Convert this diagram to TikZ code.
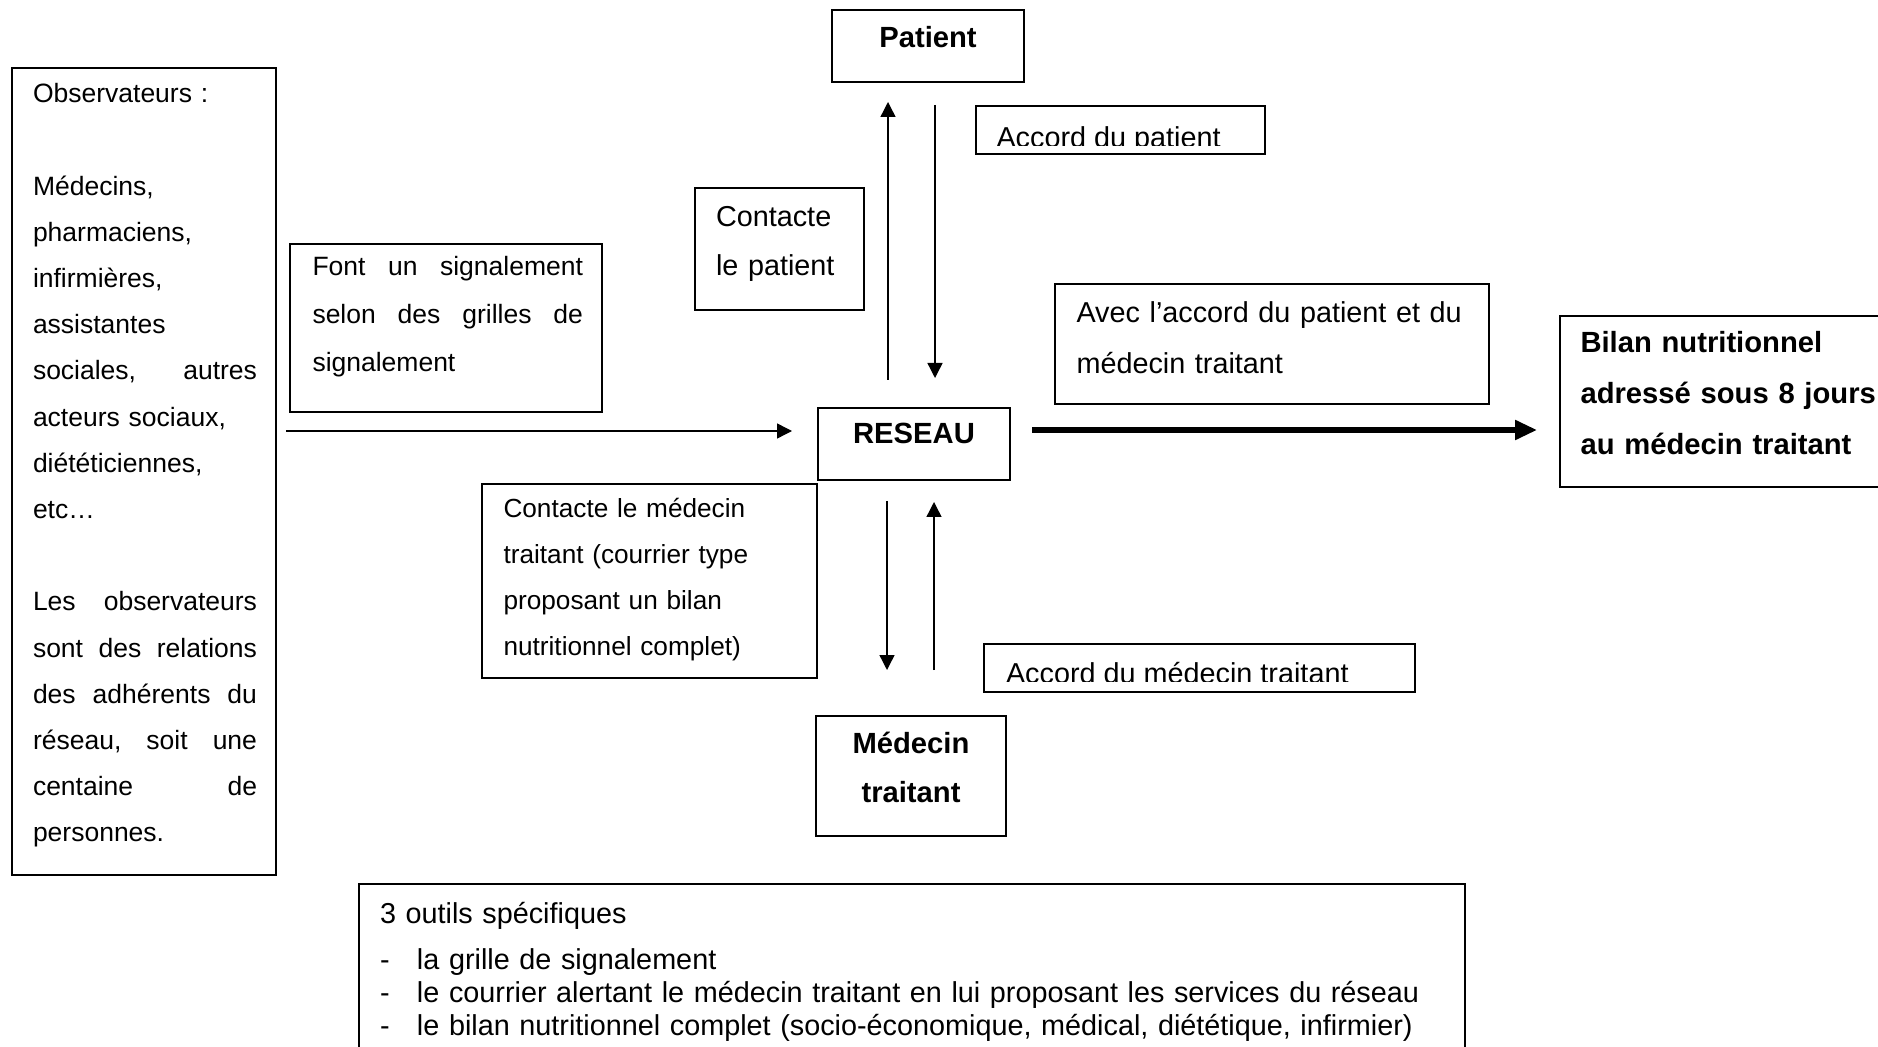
\documentclass[tikz,border=0pt]{standalone}
\usepackage{fontspec}
\setmainfont{Liberation Sans}
\usetikzlibrary{arrows.meta,fit}
\begin{document}
\begin{tikzpicture}[x=0.5pt,y=-0.5pt,
  box/.style={draw, line width=0.7pt, inner sep=0pt},
  txt/.style={inner sep=0pt, outer sep=0pt, anchor=base west, align=left},
  smallf/.style={font=\fontsize{13.1pt}{#1}\selectfont},
  obsf/.style={font=\fontsize{13.25pt}{#1}\selectfont},
  bigf/.style={font=\fontsize{14.4pt}{#1}\selectfont},
  boldf/.style={font=\fontsize{14.6pt}{#1}\selectfont\bfseries},
  arr/.style={line width=0.7pt, -{Triangle[length=7.5pt,width=7.5pt]}},
  thickarr/.style={line width=2.6pt, -{Triangle[length=11pt,width=9.5pt]}},
]
\useasboundingbox (0,0) rectangle (1878,1047);
\fill[white] (0,0) rectangle (1878,1047);

% boxes
\node[box, fit={(12,68) (276,875)}] (obs) {};
\node[box, fit={(832,10) (1024,82)}] (patient) {};
\node[box, fit={(976,106) (1265,154)}] (apat) {};
\node[box, fit={(695,188) (864,310)}] (cpat) {};
\node[box, fit={(290,244) (602,412)}] (font) {};
\node[box, fit={(1055,284) (1489,404)}] (avec) {};
\node[box, fit={(1560,316) (1900,487)}] (bilan) {};
\node[box, fit={(818,408) (1010,480)}] (reseau) {};
\node[box, fit={(482,484) (817,678)}] (cmed) {};
\node[box, fit={(984,644) (1415,692)}] (amed) {};
\node[box, fit={(816,716) (1006,836)}] (med) {};
\node[box, fit={(359,884) (1465,1080)}] (outils) {};

% texts
\node[txt, obsf=23.1pt, text width=112pt] (obst) at (33,102.7) {%
Observateurs :\\[23.1pt]
Médecins,\\
pharmaciens,\\
infirmières,\\
assistantes\\
sociales,\hfill autres\\
acteurs sociaux,\\
diététiciennes,\\
etc…\\[23.1pt]
Les\hfill observateurs\\
sont\hfill des\hfill relations\\
des\hfill adhérents\hfill du\\
réseau,\hfill soit\hfill une\\
centaine\hfill de\\
personnes.};

\node[txt, obsf=24pt, text width=135.25pt] (fontt) at (312.5,276) {%
Font\hfill un\hfill signalement\\
selon\hfill des\hfill grilles\hfill de\\
signalement};

\node[txt, bigf=24.5pt, text width=70pt] (cpatt) at (716,226.5) {Contacte\\le patient};

\begin{scope}
  \clip (976,106) rectangle (1265,145.5);
  \node[txt, bigf=17pt] (apatt) at (996.5,147.5) {Accord du patient};
\end{scope}

\node[txt, bigf=25.5pt, text width=205pt] (avect) at (1076.5,322.5) {Avec l’accord du patient et du\\médecin traitant};

\node[txt, boldf=25.4pt, text width=150pt] (bilant) at (1580.5,353) {Bilan nutritionnel\\adressé sous 8 jours\\au médecin traitant};

\node[inner sep=0pt, anchor=base, boldf=17pt] (patientt) at (928,47.5) {Patient};
\node[inner sep=0pt, anchor=base, boldf=17pt] (reseaut) at (914,444) {RESEAU};
\node[inner sep=0pt, anchor=base, align=center, text width=90pt, boldf=24.5pt] (medt) at (911,753) {Médecin\\traitant};

\node[txt, smallf=23pt, text width=150pt] (cmedt) at (503.5,517) {Contacte le médecin\\traitant (courrier type\\proposant un bilan\\nutritionnel complet)};

\begin{scope}
  \clip (984,644) rectangle (1415,681.5);
  \node[txt, bigf=17pt] (amedt) at (1006,683) {Accord du médecin traitant};
\end{scope}

\node[txt, bigf=16.6pt, text width=540pt] (outilst) at (380,923) {%
3 outils spécifiques\\[6.5pt]
\makebox[18.5pt][l]{-}la grille de signalement\\
\makebox[18.5pt][l]{-}le courrier alertant le médecin traitant en lui proposant les services du réseau\\
\makebox[18.5pt][l]{-}le bilan nutritionnel complet (socio-économique, médical, diététique, infirmier)};

% connector end points
\coordinate (a1s) at (888,380);  \coordinate (a1e) at (888,102);
\coordinate (a2s) at (935,105);  \coordinate (a2e) at (935,378);
\coordinate (a3s) at (286,431);  \coordinate (a3e) at (792,431);
\coordinate (a4s) at (1032,430); \coordinate (a4e) at (1537,430);
\coordinate (a5s) at (887,501);  \coordinate (a5e) at (887,670);
\coordinate (a6s) at (934,670);  \coordinate (a6e) at (934,502);

\draw[arr] (a1s) -- (a1e);
\draw[arr] (a2s) -- (a2e);
\draw[arr] (a3s) -- (a3e);
\draw[thickarr] (a4s) -- (a4e);
\draw[arr] (a5s) -- (a5e);
\draw[arr] (a6s) -- (a6e);
\end{tikzpicture}
\end{document}
